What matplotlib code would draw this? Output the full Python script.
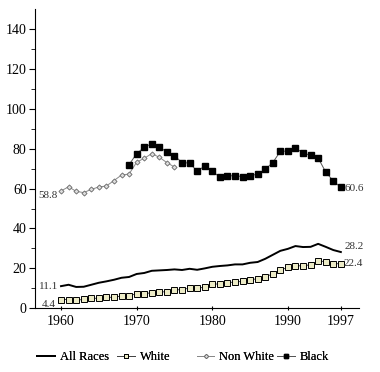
import matplotlib
matplotlib.use('Agg')
import matplotlib.pyplot as plt
from matplotlib.lines import Line2D

plt.rcParams['font.family'] = ['Liberation Serif', 'DejaVu Serif']

# --- Données -------------------------------------------------
years = list(range(1960, 1998))

all_races = [11.1, 11.8, 10.7, 10.8, 11.8, 12.8, 13.5, 14.3, 15.3, 15.7,
             17.2, 17.7, 18.8, 19.0, 19.2, 19.5, 19.2, 19.8, 19.3, 20.0,
             20.8, 21.2, 21.5, 22.0, 22.0, 22.8, 23.2, 24.8, 26.8, 28.8,
             29.8, 31.2, 30.7, 30.8, 32.3, 30.8, 29.2, 28.2]

white = [4.4, 4.4, 4.0, 4.5, 5.0, 5.0, 5.5, 5.5, 6.2, 6.3,
         7.3, 7.3, 7.8, 8.2, 8.3, 9.3, 9.3, 10.2, 10.2, 10.5,
         12.0, 12.3, 12.8, 13.2, 13.5, 14.3, 14.8, 15.8, 17.2, 19.2,
         20.5, 21.3, 21.3, 21.8, 23.8, 23.3, 22.3, 22.4]

nonwhite_years = list(range(1960, 1976))
nonwhite = [58.8, 60.9, 58.6, 58.0, 59.6, 60.8, 61.3, 64.0, 66.8, 67.3,
            73.2, 75.2, 77.5, 75.7, 73.0, 70.8]

black_years = list(range(1969, 1998))
black = [72.0, 77.5, 80.7, 82.5, 81.0, 78.2, 76.5, 73.0, 72.8, 68.7,
         71.3, 68.7, 65.7, 66.3, 66.5, 66.0, 66.5, 67.2, 69.7, 73.0,
         78.7, 78.8, 80.4, 77.8, 76.7, 75.3, 68.3, 63.8, 60.6]

xticks = [1960, 1970, 1980, 1990, 1997]

# --- Figure --------------------------------------------------
fig = plt.figure(figsize=(3.8, 3.72), dpi=100)
ax = fig.add_axes([35/380, 1 - 308.3/372, 324/380, 299.3/372])

ax.plot(years, all_races, color='black', lw=1.4)
ax.plot(years, white, color='#444444', lw=0.7, marker='s', ms=4,
        mfc='#ecebc6', mec='black', mew=0.7)
ax.plot(nonwhite_years, nonwhite, color='#888888', lw=0.7, marker='D',
        ms=2.6, mfc='#dddddd', mec='#666666', mew=0.6)
ax.plot(black_years, black, color='#555555', lw=0.7, marker='s', ms=4.2,
        mfc='black', mec='black')

# Étiquettes des valeurs
lab = dict(fontsize=8, color='#333333')
ax.text(1959.6, nonwhite[0], "58.8", ha='right', va='top', **lab)
ax.text(1959.6, all_races[0], "11.1", ha='right', va='center', **lab)
ax.text(1959.3, white[0], "4.4", ha='right', va='top', **lab)
ax.text(1997.5, black[-1] - 0.8, "60.6", ha='left', va='center', **lab)
ax.text(1997.5, all_races[-1] + 0.6, "28.2", ha='left', va='bottom', **lab)
ax.text(1997.3, white[-1], "22.4", ha='left', va='center', **lab)

ax.set_xlim(1956.56, 1999.4)
ax.set_ylim(0, 150)
ax.set_xticks(xticks)
ax.set_yticks(range(0, 141, 20))
ax.set_yticks(range(10, 150, 20), minor=True)
ax.tick_params(axis='both', labelsize=10, width=0.8)
ax.tick_params(axis='y', which='major', length=4, direction='out', pad=2)
ax.tick_params(axis='y', which='minor', length=3, direction='out', width=0.6)
ax.tick_params(axis='x', length=3, direction='inout', pad=3)
ax.spines[['top', 'right']].set_visible(False)
ax.spines[['left', 'bottom']].set_linewidth(0.8)

# --- Légende (colonnes à largeur fixe) -----------------------
entries = [
    ("All Races", dict(color='black', lw=1.4)),
    ("White", dict(color='#444444', lw=0.7, marker='s', ms=3.5,
                   mfc='#ecebc6', mec='black', mew=0.7)),
    ("Non White", dict(color='#888888', lw=0.7, marker='D', ms=2.2,
                       mfc='#dddddd', mec='#666666', mew=0.6)),
    ("Black", dict(color='#555555', lw=0.7, marker='s', ms=3.5,
                   mfc='black', mec='black')),
]
for i, (name, style) in enumerate(entries):
    h = Line2D([], [], **style)
    leg = fig.legend([h], [name], loc='center left',
                     bbox_to_anchor=((37 + 80 * i) / 380, 1 - 357/372),
                     frameon=False, fontsize=9, handlelength=1.4,
                     handletextpad=0.4, borderpad=0, borderaxespad=0)
    fig.add_artist(leg)

fig.savefig("out.png", dpi=100)
